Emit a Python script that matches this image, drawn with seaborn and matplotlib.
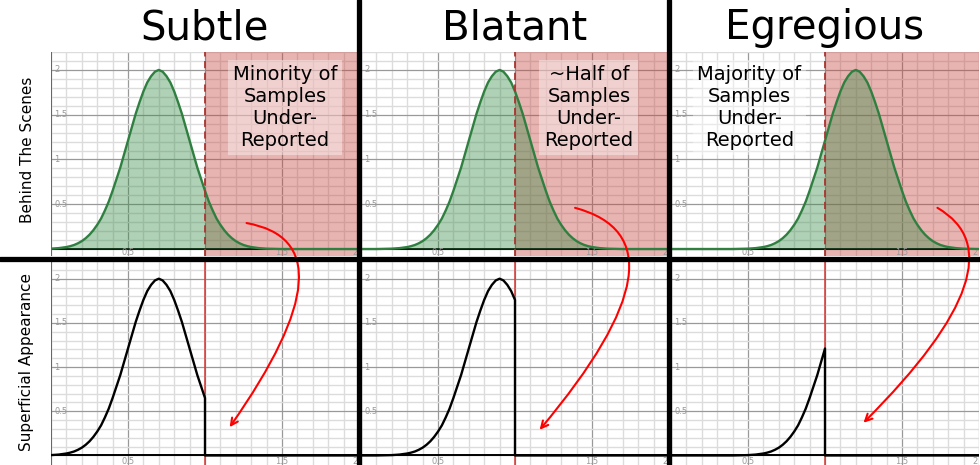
import numpy as np
import matplotlib.pyplot as plt
import seaborn as sns
from matplotlib.lines import Line2D
from matplotlib.patches import ConnectionPatch

sns.set_theme(style="white")
plt.rcParams["font.family"] = ["DejaVu Sans"]
plt.rcParams["text.color"] = "black"

# === DATA ===
titles = ["Subtle", "Blatant", "Egregious"]
row_labels = ["Behind The Scenes", "Superficial Appearance"]
notes = [
    "Minority of\nSamples\nUnder-\nReported",
    "~Half of\nSamples\nUnder-\nReported",
    "Majority of\nSamples\nUnder-\nReported",
]
note_x = [1.52, 1.48, 0.51]
note_y = 1.58

peaks = [0.7, 0.9, 1.2]       # where each bell tops out
cutoff = 1.0                  # reporting threshold

# one side of the bell: distance from the peak -> height
bell_offsets = [0, 0.025, 0.05, 0.075, 0.1, 0.125, 0.15, 0.175, 0.2, 0.225,
                0.25, 0.275, 0.3, 0.325, 0.35, 0.375, 0.4, 0.425, 0.45,
                0.475, 0.5, 0.525, 0.55, 0.575, 0.6, 0.65, 0.7, 0.8]
bell_heights = [2.0, 1.98, 1.93, 1.86, 1.76, 1.64, 1.51, 1.36, 1.21, 1.06,
                0.91, 0.78, 0.65, 0.53, 0.43, 0.34, 0.27, 0.21, 0.16,
                0.12, 0.088, 0.064, 0.045, 0.032, 0.022, 0.01, 0.004, 0.0]

arrow_start = [(1.27, 0.29), (1.39, 0.46), (1.73, 0.46)]
arrow_end = [(1.16, 0.32), (1.16, 0.29), (1.25, 0.37)]
arrow_bend = [(-10, 55), (-15, 50), (-30, 45)]

ytick_vals = [0.5, 1, 1.5, 2]
xtick_vals = [0.5, 1.5, 2]

# colours
GREEN = "#388c46"
RED = "#c74440"

W, H = 980, 465
fig = plt.figure(figsize=(W / 100, H / 100), dpi=100)
fig.patch.set_facecolor("white")

col_left = [51, 361, 671]
col_w = 308

# full bell, mirrored
offs_full = [-o for o in bell_offsets[:0:-1]] + bell_offsets
hts_full = bell_heights[:0:-1] + bell_heights


def style_axes(ax, ylim, xlab_y):
    ax.set_xlim(0, 2)
    ax.set_ylim(*ylim)
    ax.set_xticks(np.arange(0, 2.01, 0.5))
    ax.set_xticks(np.arange(0, 2.01, 0.1), minor=True)
    ax.set_yticks(np.arange(0, 2.01, 0.5))
    ax.set_yticks(np.arange(0, 2.21, 0.1), minor=True)
    ax.grid(which="minor", color="#dcdcdc", lw=1.0)
    ax.grid(which="major", color="#999999", lw=0.9)
    ax.set_axisbelow(True)
    ax.tick_params(which="both", length=0, labelbottom=False, labelleft=False)
    for s in ax.spines.values():
        s.set_visible(False)
    ax.axhline(0, color="black", lw=1.4, zorder=1.5)
    ax.axvline(0, color="#666666", lw=1.4, zorder=1.5)
    for v in ytick_vals:
        ax.text(0.02, v, f"{v:g}", fontsize=6, color="#9a9a9a",
                ha="left", va="center")
    for v in xtick_vals:
        ax.text(min(v, 1.975), xlab_y, f"{v:g}", fontsize=6, color="#9a9a9a",
                ha="center", va="center")
    ax.set_xlabel("")
    ax.set_ylabel("")


for i in range(3):
    left = col_left[i] / W
    ax_top = fig.add_axes([left, 1 - 256 / H, col_w / W, 204 / H])
    ax_bot = fig.add_axes([left, 0, col_w / W, 204 / H])
    style_axes(ax_top, (-0.078, 2.191), -0.04)
    style_axes(ax_bot, (-0.108, 2.169), -0.065)

    xs = [-0.5] + [peaks[i] + o for o in offs_full] + [2.5]
    ys = [0] + hts_full + [0]

    # behind the scenes
    ax_top.axvspan(cutoff, 2.05, color=RED, alpha=0.4, lw=0, zorder=1)
    ax_top.fill_between(xs, ys, color=GREEN, alpha=0.4, lw=0, zorder=2)
    sns.lineplot(x=xs, y=ys, ax=ax_top, color="#2f8040", lw=1.7,
                 sort=False, estimator=None, legend=False, zorder=3)
    ax_top.axvline(cutoff, color="#a83531", lw=1.3, ls=(0, (4, 2.5)), zorder=3)
    ax_top.text(note_x[i], note_y, notes[i], fontsize=14, ha="center",
                va="center", linespacing=1.22, zorder=5,
                bbox=dict(facecolor="white", alpha=0.4, edgecolor="none",
                          boxstyle="square,pad=0.25"))

    # superficial appearance: only what is under the cutoff
    bx = [x for x in xs if x <= cutoff + 1e-9]
    by = ys[:len(bx)]
    bx = bx + [cutoff, 2.5]
    by = by + [0, 0]
    ax_bot.axvline(cutoff, color="#d23a35", lw=1.1, zorder=2)
    sns.lineplot(x=bx, y=by, ax=ax_bot, color="black", lw=1.7,
                 sort=False, estimator=None, legend=False, zorder=3)

    # arrow from hidden part to the empty region
    a, b = arrow_bend[i]
    con = ConnectionPatch(xyA=arrow_start[i], coordsA=ax_top.transData,
                          xyB=arrow_end[i], coordsB=ax_bot.transData,
                          arrowstyle="->,head_length=0.5,head_width=0.25",
                          connectionstyle=f"angle3,angleA={a},angleB={b}",
                          color="red", lw=1.5, zorder=10)
    fig.add_artist(con)

    fig.text((col_left[i] + col_w / 2) / W, 1 - 28 / H, titles[i],
             fontsize=29, ha="center", va="center")

# row labels
fig.text(27 / W, 1 - 150 / H, row_labels[0], rotation=90, fontsize=11,
         ha="center", va="center")
fig.text(27 / W, 1 - 362 / H, row_labels[1], rotation=90, fontsize=11,
         ha="center", va="center")

# thick separators
for px in [358.5, 668.5]:
    fig.add_artist(Line2D([px / W, px / W], [0, 1], transform=fig.transFigure,
                          color="black", lw=3.8, zorder=20))
fig.add_artist(Line2D([0, 1], [1 - 258.5 / H, 1 - 258.5 / H],
                      transform=fig.transFigure, color="black", lw=3.8, zorder=20))

fig.savefig("out.png", dpi=100)
